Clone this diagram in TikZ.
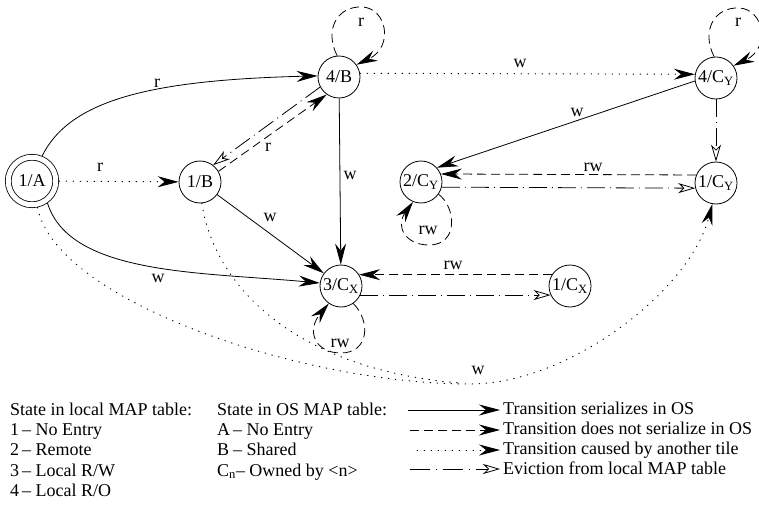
\documentclass[tikz,border=0pt]{standalone}
\usepackage{fontspec}
\setmainfont{Liberation Serif}
\usetikzlibrary{arrows.meta,calc}
\begin{document}
\begin{tikzpicture}[x=1pt,y=-1pt,
  every node/.style={font=\fontsize{18}{21}\selectfont},
  st/.style={draw, circle, line width=0.8pt, inner sep=0pt, minimum size=42pt},
  lbl/.style={inner sep=0pt},
  leg/.style={anchor=base west, inner sep=0pt},
  solidtip/.style={-{Stealth[length=21pt,width=11pt,inset=7pt]}},
  opentip/.style={-{Stealth[open,length=17pt,width=10pt,inset=5pt]}},
  tsol/.style={line width=0.8pt, solidtip},
  tdash/.style={line width=0.8pt, dash pattern=on 9pt off 5pt, solidtip},
  tdot/.style={line width=1pt, line cap=round, dash pattern=on 0.6pt off 6.4pt, solidtip},
  dotline/.style={line width=1pt, line cap=round, dash pattern=on 0.6pt off 6.4pt},
  tevict/.style={line width=0.8pt, dash pattern=on 18pt off 5pt on 1pt off 5pt, opentip}
]
\fill[white] (0,0) rectangle (759,505);
\useasboundingbox (0,0) rectangle (759,505);

% states
\node[st, double, double distance=5pt, minimum size=47.5pt, outer sep=3.3pt] (A1) at (32,181) {1/A};
\node[st] (B1) at (200,182) {1/B};
\node[st] (B4) at (339,77) {4/B};
\node[st] (CX3) at (341,286) {3/C\textsubscript{X}};
\node[st] (CX1) at (570,286) {1/C\textsubscript{X}};
\node[st] (CY2) at (421,182) {2/C\textsubscript{Y}};
\node[st] (CY1) at (716,183) {1/C\textsubscript{Y}};
\node[st] (CY4) at (716,78) {4/C\textsubscript{Y}};

% transitions
\draw[tsol] (A1.68) .. controls (70,100) and (150,80) .. (B4.177);
\draw[tdot] (A1) -- (B1);
\draw[tdash] (B1.30) -- (B4.235);
\draw[tevict] (B4.208) -- (B1.52);
\draw[tsol] (B4) -- (CX3);
\draw[tsol] (B1) -- (CX3);
\draw[tsol] (A1.-55) .. controls (70,275) and (200,272) .. (CX3.172);
\draw[tdash] (CX1.148) -- (CX3.32);
\draw[tevict] (CX3.-25) -- (CX1.205);
\draw[tdot] (B4.10) -- (CY4.170);
\draw[tsol] (CY4.188) -- (CY2.42);
\draw[tevict] (CY4) -- (CY1);
\draw[tdash] (CY1.158) -- (CY2.22);
\draw[tevict] (CY2.-14) -- (CY1.194);
\coordinate (bot) at (470,384);
\coordinate (merge) at (460,383);
\draw[tdot] (A1.-78) .. controls (55,300) and (300,384) .. (bot) .. controls (570,384) and (690,290) .. (CY1.-100);
\draw[dotline] (B1.-85) .. controls (215,290) and (300,370) .. (merge);

% self loops
\draw[tdash] (B4.95) .. controls ($(B4)+(-15,-47)$) and ($(B4)+(-2,-71)$) .. ($(B4)+(23,-70)$)
  .. controls ($(B4)+(48,-69)$) and ($(B4)+(55,-30)$) .. (B4.35);
\draw[tdash] (CY4.95) .. controls ($(CY4)+(-15,-47)$) and ($(CY4)+(-2,-71)$) .. ($(CY4)+(23,-70)$)
  .. controls ($(CY4)+(48,-69)$) and ($(CY4)+(55,-30)$) .. (CY4.35);
\draw[tdash] (CX3.-55) .. controls ($(CX3)+(30,35)$) and ($(CX3)+(28,67)$) .. ($(CX3)+(0,67)$)
  .. controls ($(CX3)+(-26,67)$) and ($(CX3)+(-35,45)$) .. (CX3.-125);
\draw[tdash] (CY2.-35) .. controls ($(CY2)+(35,25)$) and ($(CY2)+(38,63)$) .. ($(CY2)+(8,63)$)
  .. controls ($(CY2)+(-15,63)$) and ($(CY2)+(-26,45)$) .. (CY2.-112);

% labels
\node[lbl] (l1) at (157,83) {r};
\node[lbl] (l2) at (100,167) {r};
\node[lbl] (l3) at (268,147) {r};
\node[lbl] (l4) at (350,175) {w};
\node[lbl] (l5) at (270,217) {w};
\node[lbl] (l6) at (158,278) {w};
\node[lbl] (l7) at (361,22) {r};
\node[lbl] (l8) at (520,63) {w};
\node[lbl] (l9) at (738,22) {r};
\node[lbl] (l10) at (577,112) {w};
\node[lbl] (l11) at (593,167) {rw};
\node[lbl] (l12) at (428,230) {rw};
\node[lbl] (l13) at (453,265) {rw};
\node[lbl] (l14) at (340,343) {rw};
\node[lbl] (l15) at (478,370) {w};

% legend: local MAP table
\node[leg] (h1) at (10,415) {State in local MAP table:};
\node[leg] (k1) at (10,435) {\makebox[12pt][l]{1}-- No Entry};
\node[leg] (k2) at (10,455) {\makebox[12pt][l]{2}-- Remote};
\node[leg] (k3) at (10,476) {\makebox[12pt][l]{3}-- Local R/W};
\node[leg] (k4) at (10,496) {\makebox[12pt][l]{4}-- Local R/O};
% legend: OS MAP table
\node[leg] (h2) at (217,415) {State in OS MAP table:};
\node[leg] (m1) at (217,435) {\makebox[16pt][l]{A}-- No Entry};
\node[leg] (m2) at (217,455) {\makebox[16pt][l]{B}-- Shared};
\node[leg] (m3) at (217,476) {C\textsubscript{n}-- Owned by <n>};
% legend: line styles
\coordinate (la1) at (408,410); \coordinate (lb1) at (500,410);
\coordinate (la2) at (410,430); \coordinate (lb2) at (500,430);
\coordinate (la3) at (417,450); \coordinate (lb3) at (500,450);
\coordinate (la4) at (410,469); \coordinate (lb4) at (500,469);
\draw[tsol] (la1) -- (lb1);
\draw[tdash] (la2) -- (lb2);
\draw[tdot] (la3) -- (lb3);
\draw[tevict, dash pattern=on 20pt off 6pt on 1pt off 6pt] (la4) -- (lb4);
\node[leg] (t1) at (503,414) {Transition serializes in OS};
\node[leg] (t2) at (503,434) {Transition does not serialize in OS};
\node[leg] (t3) at (503,454) {Transition caused by another tile};
\node[leg] (t4) at (503,474) {Eviction from local MAP table};
\end{tikzpicture}
\end{document}
